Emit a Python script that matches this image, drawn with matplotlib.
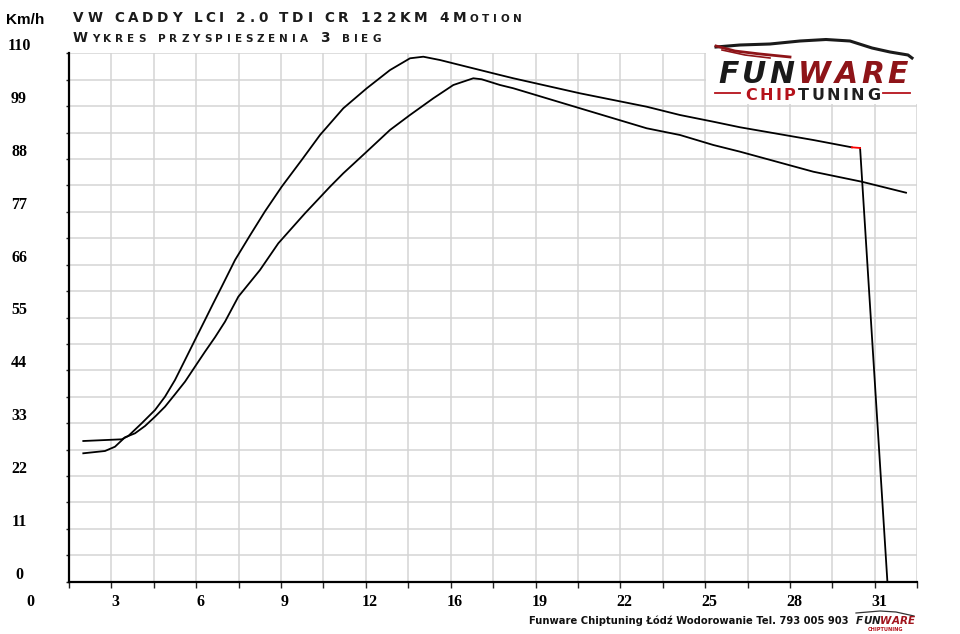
#!/usr/bin/env python3
"""Acceleration chart (3rd gear) for VW Caddy LCI 2.0 TDI CR 122KM 4Motion."""

from __future__ import annotations

import matplotlib

matplotlib.use("Agg")
import matplotlib.pyplot as plt
from matplotlib import transforms
from matplotlib.lines import Line2D
from matplotlib.patches import Rectangle
import numpy as np

W, H = 960, 634

# x is measured in grid divisions (20 divisions across the plot)
X_TICK_POS = [-1, 1, 3, 5, 7, 9, 11, 13, 15, 17, 19]
X_TICK_LABELS = ["0", "3", "6", "9", "12", "16", "19", "22", "25", "28", "31"]
Y_TICK_VALUES = [0, 11, 22, 33, 44, 55, 66, 77, 88, 99, 110]

# tuned run (upper curve)
tuned_x = [0.337, 1.242, 1.398, 1.714, 2.028, 2.263, 2.499, 2.735, 2.970, 3.206, 3.402,
           3.600, 3.914, 4.268, 4.621, 5.015, 5.486, 5.918, 6.467, 7.019, 7.568, 8.040,
           8.353, 8.747, 9.376, 10.162, 10.476, 12.048, 13.620, 14.406, 15.191, 15.820,
           17.548, 18.454]
tuned_y = [29.29, 29.64, 30.33, 32.98, 35.74, 38.51, 41.99, 46.15, 50.32, 54.48, 57.96,
           61.41, 66.96, 72.10, 77.10, 82.23, 87.79, 92.99, 98.55, 102.71, 106.51, 108.96,
           109.29, 108.60, 107.21, 105.48, 104.80, 101.67, 98.88, 97.15, 95.76, 94.60,
           91.95, 90.43]
# red marker at the end of the tuned run, then the drop to zero
red_x = [18.454, 18.651]
red_y = [90.43, 90.29]
drop_x = [18.651, 19.295]
drop_y = [90.29, 0.0]

# stock run (lower curve)
stock_x = [0.337, 0.849, 1.084, 1.320, 1.556, 1.792, 2.028, 2.263, 2.499, 2.735, 2.970,
           3.206, 3.442, 3.678, 3.992, 4.503, 4.935, 5.564, 6.154, 6.467, 7.019, 7.568,
           8.040, 8.589, 9.061, 9.532, 9.730, 10.162, 10.476, 12.048, 13.620, 14.406,
           15.191, 15.820, 17.548, 18.689, 19.734]
stock_y = [26.73, 27.21, 28.10, 30.06, 30.89, 32.41, 34.35, 36.43, 39.01, 41.64, 44.76,
           47.88, 50.88, 54.13, 59.33, 64.89, 70.45, 76.69, 82.23, 85.02, 89.52, 94.04,
           97.16, 100.63, 103.40, 104.80, 104.59, 103.40, 102.72, 98.55, 94.39, 92.99,
           90.91, 89.52, 85.35, 83.27, 80.98]

TITLE_1 = "VW CADDY LCI 2.0 TDI CR 122KM 4Motion"
TITLE_2 = "Wykres przyspieszenia 3 bieg"
FOOTER = "Funware Chiptuning Łódź Wodorowanie Tel. 793 005 903"

NUM_FONT = dict(family="Liberation Serif", fontweight="bold", fontsize=11.5)
RED = "#b5121b"
DARK_RED = "#8e1418"


def px(x, y):
    return x / W, 1 - y / H


def spaced_text(fig, renderer, x0, base, segments, size, target_width,
                small_caps=False, small=0.76, **font):
    """Place text letter by letter, stretching the spacing to target_width pixels."""
    items = []
    for text, color in segments:
        for ch in text:
            fs = size * small if (small_caps and ch.islower()) else size
            t = fig.text(0, 0, ch.upper() if small_caps else ch, fontsize=fs, color=color,
                         va="baseline", ha="left", **font)
            if ch == " ":
                w = 0.32 * size * 100 / 72
            else:
                w = t.get_window_extent(renderer).width
            items.append((t, w))
    natural = sum(w for _, w in items)
    track = (target_width - natural) / max(len(items) - 1, 1)
    x = x0
    for t, w in items:
        t.set_position(px(x, base))
        x += w + track


def main() -> int:
    fig = plt.figure(figsize=(W / 100, H / 100), dpi=100)
    fig.patch.set_facecolor("white")
    ax = fig.add_axes([69 / W, 1 - 581.7 / H, (917.3 - 69) / W, (581.7 - 53.3) / H])
    ax.set_xlim(0, 20)
    ax.set_ylim(0, 110)
    ax.set_xticks(np.arange(0, 21))
    ax.set_yticks(np.arange(0, 110.01, 5.5))
    ax.grid(True, color="#d4d4d4", lw=1.1)
    ax.set_axisbelow(True)
    ax.tick_params(labelbottom=False, labelleft=False, color="#222222", width=1.0)
    ax.tick_params(axis="x", length=4.5)
    ax.tick_params(axis="y", length=2.5)
    for side in ("top", "right"):
        ax.spines[side].set_visible(False)
    for side in ("left", "bottom"):
        ax.spines[side].set_linewidth(1.6)
        ax.spines[side].set_color("black")

    ax.plot(stock_x, stock_y, color="black", lw=1.3, zorder=3)
    ax.plot(tuned_x, tuned_y, color="black", lw=1.3, zorder=3)
    ax.plot(red_x, red_y, color="#ff0000", lw=1.3, zorder=4)
    ax.plot(drop_x, drop_y, color="black", lw=1.3, zorder=3)

    # tick labels
    ytrans = transforms.offset_copy(
        transforms.blended_transform_factory(fig.transFigure, ax.transData), fig, y=7, units="dots")
    for v in Y_TICK_VALUES:
        ax.text(19 / W, v, str(v), transform=ytrans, ha="center", va="center", clip_on=False, **NUM_FONT)
    xtrans = transforms.offset_copy(
        transforms.blended_transform_factory(ax.transData, fig.transFigure), fig, x=4, units="dots")
    for pos, lab in zip(X_TICK_POS, X_TICK_LABELS):
        ax.text(pos, 1 - 601.7 / H, lab, transform=xtrans, ha="center", va="center", clip_on=False, **NUM_FONT)

    fig.text(*px(25.5, 19.5), "Km/h", ha="center", va="center", family="Liberation Sans",
             fontweight="bold", fontsize=11)

    renderer = fig.canvas.get_renderer()
    title_font = dict(family="DejaVu Sans", fontweight="bold")
    spaced_text(fig, renderer, 73, 22.5, [(TITLE_1, "#1b1b1b")], 9.8, 449,
                small_caps=True, **title_font)
    spaced_text(fig, renderer, 73, 42.5, [(TITLE_2, "#1b1b1b")], 9.8, 308,
                small_caps=True, **title_font)

    fig.text(*px(529, 620.5), FOOTER, ha="left", va="center", family="DejaVu Sans",
             fontweight="bold", fontsize=7.2, color="#111111")

    # big logo (top right), white box hides the grid behind it
    fig.patches.append(Rectangle(px(706, 104), 212 / W, 64 / H, transform=fig.transFigure,
                                 facecolor="white", edgecolor="none", zorder=5))
    roof = [(716, 47), (740, 45), (770, 44), (800, 41), (826, 39.5), (850, 41), (872, 48),
            (890, 52), (908, 55), (912, 58)]
    swoosh = [(716, 46), (735, 51), (760, 54), (790, 57)]
    swoosh2 = [(722, 50), (745, 55), (770, 58)]
    for pts, col, lw in ((roof, "#1a1a1a", 2.2), (swoosh, DARK_RED, 2.0), (swoosh2, DARK_RED, 1.2)):
        xs, ys = zip(*[px(a, b) for a, b in pts])
        fig.lines.append(Line2D(xs, ys, transform=fig.transFigure, color=col, lw=lw, zorder=6))
    logo_font = dict(family="DejaVu Sans", fontweight="heavy", fontstyle="italic", zorder=7)
    spaced_text(fig, renderer, 718, 83, [("FUN", "#1a1a1a"), ("WARE", DARK_RED)], 21.5, 190,
                **logo_font)
    spaced_text(fig, renderer, 745, 99.5, [("CHIP", RED), ("TUNING", "#1f1f1f")], 11.5, 135,
                family="DejaVu Sans", fontweight="bold", zorder=7)
    for a, b in ((715, 740), (883, 910)):
        xs, ys = zip(px(a, 93), px(b, 93))
        fig.lines.append(Line2D(xs, ys, transform=fig.transFigure, color=RED, lw=1.3, zorder=6))

    # small logo next to the footer
    xs, ys = zip(*[px(a, b) for a, b in [(856, 613), (880, 611), (896, 612), (914, 616)]])
    fig.lines.append(Line2D(xs, ys, transform=fig.transFigure, color="#333333", lw=0.9))
    spaced_text(fig, renderer, 856, 624.5, [("FUN", "#1a1a1a"), ("WARE", "#a0141c")], 7.5, 59,
                family="DejaVu Sans", fontweight="heavy", fontstyle="italic")
    fig.text(*px(885, 631), "CHIPTUNING", ha="center", va="baseline", family="DejaVu Sans",
             fontweight="bold", fontsize=3.6, color=RED)

    fig.savefig("out.png", dpi=100, facecolor="white")
    plt.close(fig)
    return 0


if __name__ == "__main__":
    raise SystemExit(main())
